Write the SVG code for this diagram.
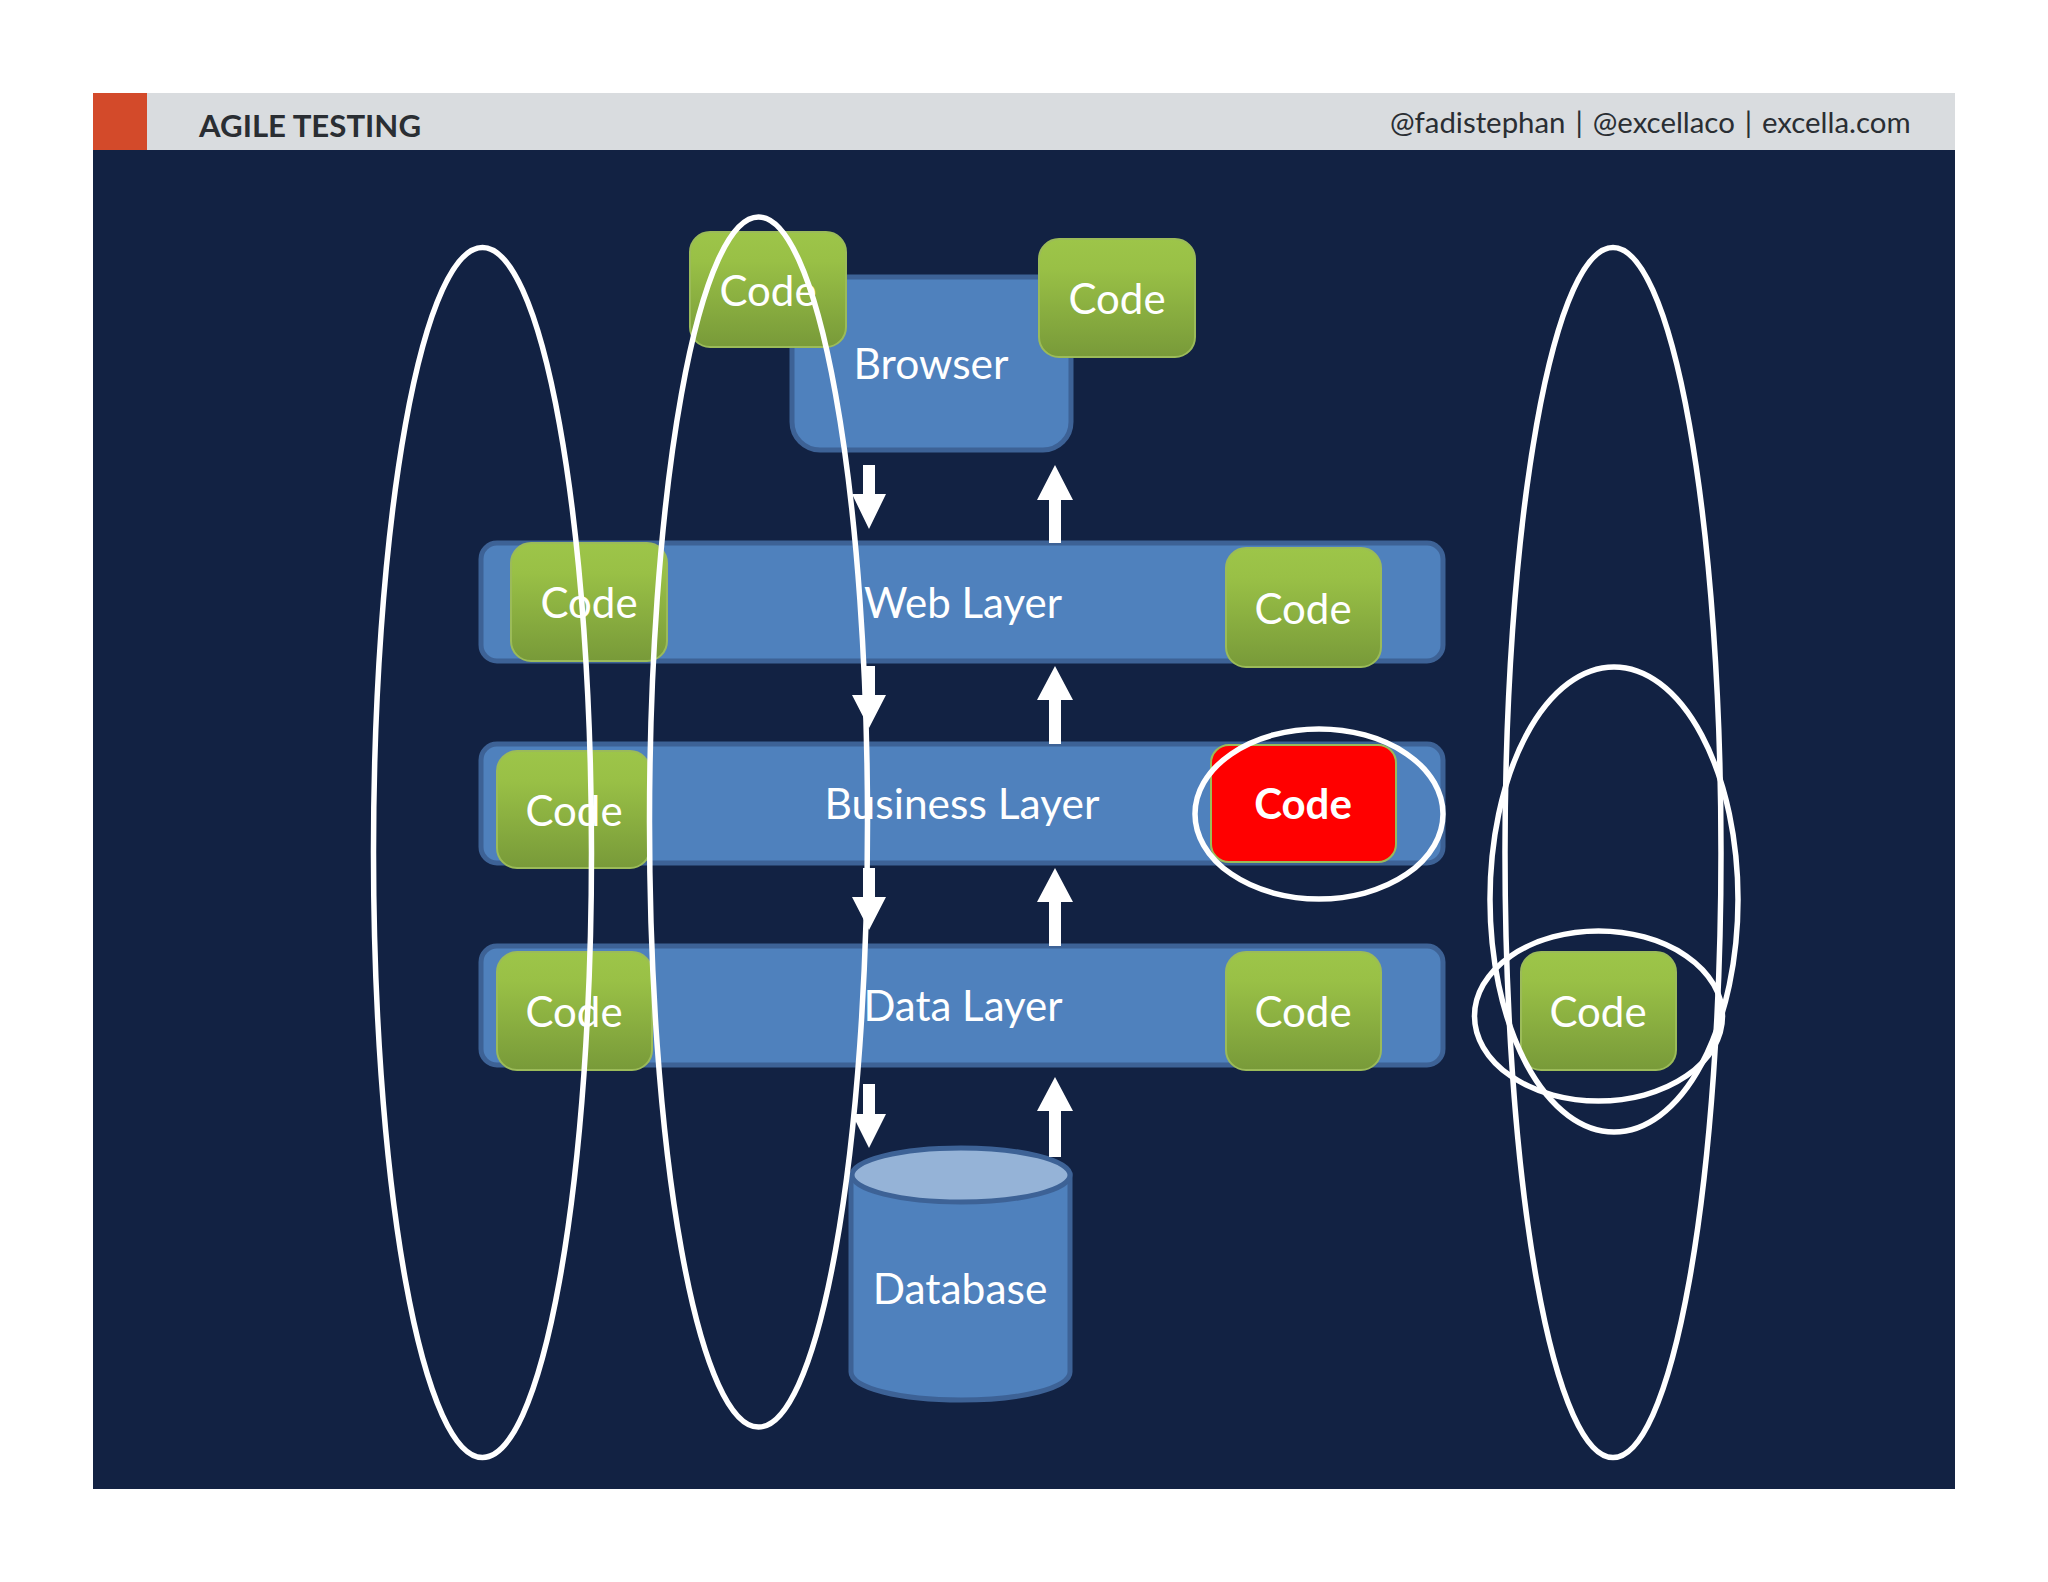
<svg xmlns="http://www.w3.org/2000/svg" width="2048" height="1582" viewBox="0 0 2048 1582">
<defs>
<linearGradient id="g" x1="0" y1="0" x2="0" y2="1"><stop offset="0" stop-color="#9dc549"/><stop offset="0.25" stop-color="#99c046"/><stop offset="1" stop-color="#789a39"/></linearGradient>
</defs>
<style>
text{font-family:"Lato","Carlito","Open Sans",sans-serif;fill:#fff;text-anchor:middle;font-size:42px}
.l{fill:#4f81bd;stroke:#3d6296;stroke-width:5}
.c{fill:url(#g);stroke:#9bbb59;stroke-width:2}
.o{fill:none;stroke:#fff;stroke-width:5.5}
.a{fill:#fff}
.h{fill:#2a2e33;text-anchor:start}
</style>
<rect width="2048" height="1582" fill="#fff"/>
<g id="header">
<rect x="93" y="93" width="1862" height="58" fill="#d9dcdf"/>
<rect x="93" y="93" width="54" height="58" fill="#d34a2a"/>
<text class="h" x="199" y="137" style="font-size:31.2px;font-weight:700">AGILE TESTING</text>
<text class="h" x="1390" y="133" style="font-size:29.4px;word-spacing:2.4px">@fadistephan | @excellaco | excella.com</text>
</g>
<rect id="panel" x="93" y="150" width="1862" height="1339" fill="#122243"/>
<g id="browser"><rect class="l" x="792" y="277" width="279" height="173" rx="28"/><text x="931" y="379" style="font-size:42.5px">Browser</text></g>
<g id="web-layer"><rect class="l" x="481" y="543" width="962" height="118" rx="16"/><text x="963" y="618">Web Layer</text></g>
<g id="business-layer"><rect class="l" x="481" y="744" width="962" height="119" rx="16"/><text x="962" y="819" style="font-size:42.5px">Business Layer</text></g>
<g id="data-layer"><rect class="l" x="481" y="946" width="962" height="119" rx="16"/><text x="963" y="1021">Data Layer</text></g>
<g id="database">
<path class="l" d="M851 1175V1372C851 1388 900 1400 961 1400S1070 1388 1070 1372V1175Z"/>
<ellipse cx="961" cy="1175" rx="109" ry="27" fill="#95b3d7" stroke="#3d6296" stroke-width="5"/>
<text x="960" y="1304" style="font-size:42.5px">Database</text>
</g>
<g id="connectors">
<path class="a" d="M863 465h12v29h11l-17 35-17-35h11z"/>
<path class="a" d="M1049 543v-43h-12l18-35 18 35h-12v43z"/>
<path class="a" d="M863 666h12v29h11l-17 33-17-33h11z"/>
<path class="a" d="M1049 744v-44h-12l18-34 18 34h-12v44z"/>
<path class="a" d="M863 868h12v29h11l-17 33-17-33h11z"/>
<path class="a" d="M1049 946v-44h-12l18-34 18 34h-12v44z"/>
<path class="a" d="M863 1084h12v30h11l-17 34-17-34h11z"/>
<path class="a" d="M1049 1157v-46h-12l18-34 18 34h-12v46z"/>
</g>
<g id="code-browser-left"><rect class="c" x="690" y="232" width="156" height="115" rx="20"/><text x="768" y="306">Code</text></g>
<g id="code-browser-right"><rect class="c" x="1039" y="239" width="156" height="118" rx="20"/><text x="1117" y="314">Code</text></g>
<g id="code-web-left"><rect class="c" x="511" y="543" width="156" height="118" rx="20"/><text x="589" y="618">Code</text></g>
<g id="code-web-right"><rect class="c" x="1226" y="548" width="155" height="119" rx="20"/><text x="1303" y="624">Code</text></g>
<g id="code-business-left"><rect class="c" x="497" y="751" width="153" height="117" rx="20"/><text x="574" y="826">Code</text></g>
<g id="code-business-red"><rect x="1211" y="745" width="185" height="117" rx="18" fill="#f00" stroke="#9bbb59" stroke-width="2"/><text x="1303" y="819" style="font-weight:700">Code</text></g>
<g id="code-data-left"><rect class="c" x="497" y="952" width="155" height="118" rx="20"/><text x="574" y="1027">Code</text></g>
<g id="code-data-right"><rect class="c" x="1226" y="952" width="155" height="118" rx="20"/><text x="1303" y="1027">Code</text></g>
<g id="code-external"><rect class="c" x="1521" y="952" width="155" height="118" rx="20"/><text x="1598" y="1027">Code</text></g>
<g id="ellipses">
<ellipse class="o" cx="482.5" cy="852.5" rx="109" ry="605"/>
<ellipse class="o" cx="758.5" cy="822" rx="109" ry="605"/>
<ellipse class="o" cx="1613" cy="852.5" rx="108" ry="605"/>
<ellipse class="o" cx="1614" cy="899.5" rx="124" ry="232.5"/>
<ellipse class="o" cx="1598.5" cy="1016" rx="124" ry="85"/>
<ellipse class="o" cx="1319" cy="814" rx="124" ry="85"/>
</g>
</svg>
